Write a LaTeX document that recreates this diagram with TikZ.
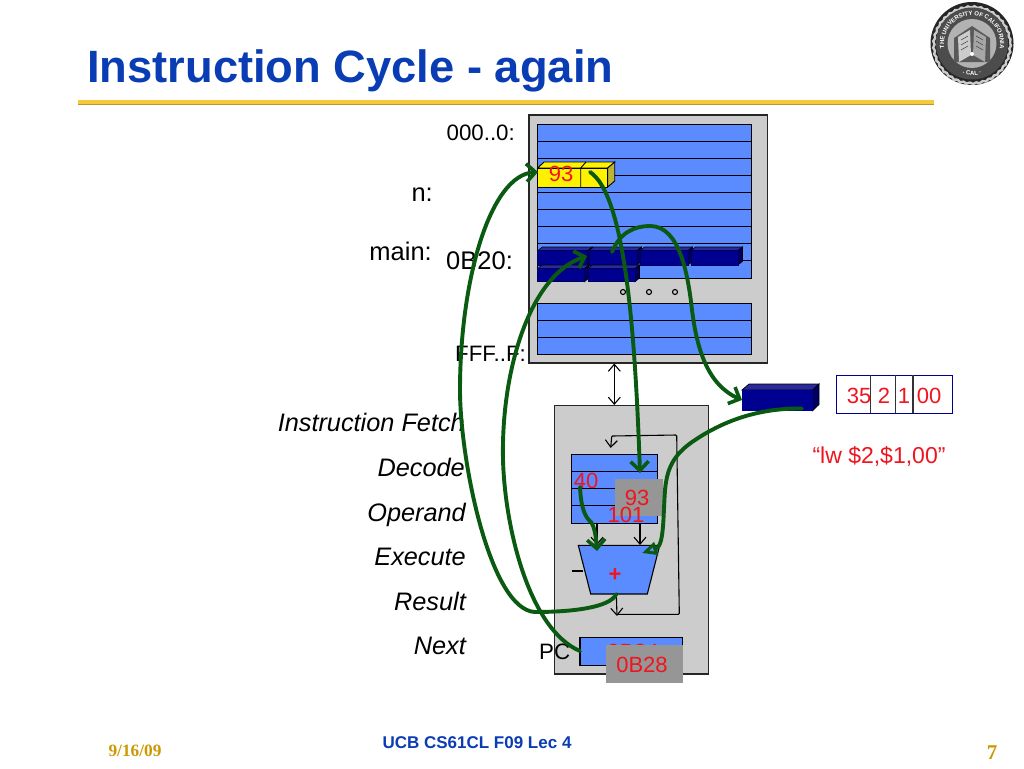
\documentclass[tikz,border=0pt]{standalone}
\usepackage{fontspec}
\setmainfont{Liberation Sans}
\newfontfamily\serifbold{Liberation Serif}
\usetikzlibrary{arrows.meta,decorations.text,decorations.pathmorphing}
\definecolor{panel}{HTML}{CCCCCC}
\definecolor{membar}{HTML}{5B8CFF}
\definecolor{navy}{HTML}{000090}
\definecolor{navytop}{HTML}{2A2A9A}
\definecolor{navyside}{HTML}{000060}
\definecolor{wire}{HTML}{0B5A12}
\definecolor{redtxt}{HTML}{F0141E}
\definecolor{titleblue}{HTML}{0A3CB4}
\definecolor{footgold}{HTML}{CC9900}
\definecolor{patch}{HTML}{969696}
\definecolor{ruleyellow}{HTML}{F7C93A}
\tikzset{
  panelbox/.style={draw=black!85,fill=panel,line width=1.2pt},
  barline/.style={draw=black,line width=0.9pt},
  lab/.style={font=\fontsize{22.3}{24}\selectfont,inner sep=0pt,text=black},
  labbig/.style={font=\fontsize{25.5}{27}\selectfont,inner sep=0pt,text=black},
  cyc/.style={font=\fontsize{25.3}{27}\selectfont\itshape,inner sep=0pt,anchor=base east},
  redlab/.style={font=\fontsize{22}{24}\selectfont,inner sep=0pt,text=redtxt},
  thin arrow/.style={draw=black,line width=1.1pt,-{Straight Barb[length=7pt,width=12pt,line width=1.1pt]}},
  greenwire/.style={draw=wire,line width=3.9pt,line cap=round,
     -{Straight Barb[length=9pt,width=18pt,line width=3.6pt]}},
}
\begin{document}
\begin{tikzpicture}[x=1pt,y=-1pt]
\useasboundingbox (0,0) rectangle (1024,768);
\fill[white] (0,0) rectangle (1024,768);
% title and rule
\node[anchor=base west,inner sep=0pt,text=titleblue,font=\fontsize{45.3}{48}\selectfont\bfseries] (title) at (87,82.5) {Instruction Cycle - again};
\fill[ruleyellow] (78,100) rectangle (934,104);
\fill[black!25!ruleyellow] (78,104) rectangle (934,105);
% seal
\fill[black!85] (972,43.5) circle (41.5);
\draw[draw=black!20,line width=2.4pt,decorate,decoration={snake,segment length=6.5pt,amplitude=0.7pt}] (972,43.5) circle (38.2);
\fill[black!70] (972,43.5) circle (36);
\path[postaction={decorate,decoration={text along path,text align=center,
   text={|\fontsize{6}{7}\selectfont\bfseries\color{white}|THE UNIVERSITY OF CALIFORNIA}}}]
   (945.9,53.5) arc[start angle=159,end angle=381,radius=28];
\path[postaction={decorate,decoration={text along path,text align=center,
   text={|\fontsize{6}{7}\selectfont\bfseries\color{white}|· CAL ·}}}]
   (957,71.75) arc[start angle=118,end angle=62,radius=32];
\fill[black!30] (972,43.5) circle (24.5);
\fill[black!65] (954,38) -- (972,26) -- (990,38) -- (990,62) -- (954,62) -- cycle;
\fill[black!20] (958,37) -- (970,30) -- (971,55) -- (959,62) -- cycle;
\fill[black!35] (974,30) -- (986,37) -- (985,62) -- (973,55) -- cycle;
\draw[black!70,line width=0.6pt] (961,40) -- (968,36) (961,45) -- (968,41) (961,50) -- (968,46) (976,36) -- (983,40) (976,41) -- (983,45) (976,46) -- (983,50);
\fill[white] (972,54) circle (2);
% memory
\draw[panelbox,line width=1.4pt] (529,115) rectangle (767.5,363);
\fill[membar] (537.5,124) rectangle (751,278);
\draw[barline] (537.5,124) rectangle (751,278);
\foreach \yy in {141,158,175,192,209,226,243,260} \draw[barline] (537.5,\yy) -- (751,\yy);
\fill[membar] (537.5,303) rectangle (751,354);
\draw[barline] (537.5,303) rectangle (751,354);
\foreach \yy in {320,337} \draw[barline] (537.5,\yy) -- (751,\yy);
% yellow word
\fill[yellow,draw=black,line width=0.9pt] (537.7,168) -- (544,162) -- (614.7,162) -- (607.7,168) -- cycle;
\fill[yellow!70!black,draw=black,line width=0.9pt] (607.7,168) -- (614.7,162) -- (614.7,181) -- (607.7,187) -- cycle;
\fill[yellow,draw=black,line width=0.9pt] (537.7,168) rectangle (607.7,187);
\draw[black,line width=0.9pt] (580.7,168) -- (580.7,187) (580.7,168) -- (586,162);
% program words
\foreach \xa/\xb in {537.7/587.7,589/637,640/688,691/738}{
  \fill[navytop,draw=black,line width=0.6pt] (\xa,250.7) -- (\xa+4.5,247) -- (\xb+4.5,247) -- (\xb,250.7) -- cycle;
  \fill[navyside,draw=black,line width=0.6pt] (\xb,250.7) -- (\xb+4.5,247) -- (\xb+4.5,261.3) -- (\xb,265) -- cycle;
  \fill[navy,draw=navy!60!black,line width=0.5pt] (\xa,250.7) rectangle (\xb,265);
}
\foreach \xa/\xb in {537.7/584.5,588/635}{
  \fill[navytop,draw=black,line width=0.6pt] (\xa,268.5) -- (\xa+4.5,265) -- (\xb+4.5,265) -- (\xb,268.5) -- cycle;
  \fill[navyside,draw=black,line width=0.6pt] (\xb,268.5) -- (\xb+4.5,265) -- (\xb+4.5,278) -- (\xb,281.7) -- cycle;
  \fill[navy,draw=navy!60!black,line width=0.5pt] (\xa,268.5) rectangle (\xb,281.7);
}
\foreach \xx in {623,649,675} \draw[black,line width=1.1pt] (\xx,292) circle (2.5);
% memory labels
\node[lab,anchor=base east] (addr0) at (515,140) {000..0:};
\node[labbig,anchor=base east] (labn) at (433,201) {n:};
\node[labbig,anchor=base east] (labmain) at (432,260) {main:};
\node[labbig,anchor=base west] (addrb) at (446,269) {0B20:};
\node[lab,anchor=base west] (addrf) at (455,361) {FFF..F:};
\node[redlab,anchor=base] (val93) at (561,181) {93};
% cycle labels
\node[cyc] (c1) at (465,431) {Instruction Fetch};
\node[cyc] (c2) at (465,476) {Decode};
\node[cyc] (c3) at (466,521) {Operand};
\node[cyc] (c4) at (466,565) {Execute};
\node[cyc] (c5) at (466,610) {Result};
\node[cyc] (c6) at (466,654) {Next};
% cpu
\draw[panelbox] (554.3,405.7) rectangle (708.3,674);
\draw[draw=black,line width=1.1pt,{Straight Barb[length=7pt,width=12pt,line width=1.1pt]}-{Straight Barb[length=7pt,width=12pt,line width=1.1pt]}] (614.3,363.5) -- (614.3,405);
% registers
\fill[membar] (571.7,454.3) rectangle (657,523);
\draw[barline] (571.7,454.3) rectangle (657,523);
\foreach \yy in {471,488,505.7} \draw[barline] (571.7,\yy) -- (657,\yy);
\node[redlab,anchor=base] (r40) at (586,488) {40};
% alu
\draw[fill=membar,draw=black,line width=1.1pt] (578.3,545.3) -- (659.7,545.3) -- (647.3,594) -- (590.7,594) -- cycle;
\node[inner sep=0pt,text=redtxt,font=\fontsize{22}{24}\selectfont\bfseries] (plus) at (615,575) {+};
\coordinate (aluout) at (616.3,594);
\coordinate (loopa) at (617.3,614.3);
\draw[thin arrow] (aluout) -- (617,616);
\coordinate (loopb) at (679.3,614.3);
\coordinate (loopc) at (676.7,435);
\coordinate (loopd) at (611.7,436);
\coordinate (loope) at (610.7,448);
\draw[thin arrow,rounded corners=1pt] (loopa) -- (loopb) -- (loopc) -- (loopd) -- (loope);
\draw[thin arrow] (597,523) -- (597,545);
\draw[thin arrow] (640,523) -- (640,545);
\draw[black,line width=1.1pt] (571.7,571) -- (583,571);
% patches
\node[fill=patch,inner sep=0pt,minimum width=48pt,minimum height=37pt,anchor=north west] (p93) at (615,478.3) {};
\node[redlab,anchor=base] (t93) at (637,505) {93};
\node[redlab,anchor=base] (r101) at (626,522) {101};
% pc
\draw[fill=membar,draw=black,line width=1.1pt] (580,637.3) rectangle (682.7,665.3);
\node[redlab,anchor=base] (pcold) at (633,659) {0B24};
\node[fill=patch,inner sep=0pt,minimum width=76.7pt,minimum height=37.3pt,anchor=north west] (p0b28) at (606,645) {};
\node[redlab,anchor=base] (pcnew) at (642,672) {0B28};
\node[lab,anchor=base west] (pclab) at (539,659) {PC};
% instruction register side
\fill[navytop,draw=black,line width=0.7pt] (742,390) -- (749,384) -- (819,384) -- (812.7,390) -- cycle;
\fill[navyside,draw=black,line width=0.7pt] (812.7,390) -- (819,384) -- (819,404.5) -- (812.7,410.7) -- cycle;
\fill[navy] (742,390) rectangle (812.7,410.7);
\draw[draw=navy,line width=1.1pt,fill=white] (836.3,375.3) rectangle (952.3,413.3);
\draw[black!80,line width=1.2pt] (870.3,375.3) -- (870.3,413.3) (895.7,375.3) -- (895.7,413.3) (913,375.3) -- (913,413.3);
\node[redlab,anchor=base] (f35) at (859,403) {35};
\node[redlab,anchor=base] (f2) at (884,403) {2};
\node[redlab,anchor=base] (f1) at (904,403) {1};
\node[redlab,anchor=base] (f00) at (929,403) {00};
\node[redlab,anchor=base,font=\fontsize{23}{25}\selectfont] (asm) at (879,463) {“lw \$2,\$1,00”};
% footer
\node[anchor=base,inner sep=0pt,text=titleblue,font=\fontsize{17}{19}\selectfont\bfseries] (foot) at (477,748) {UCB CS61CL F09 Lec 4};
\node[anchor=base,inner sep=0pt,text=footgold,font=\fontsize{17.3}{19}\selectfont\serifbold\bfseries] (date) at (135,756) {9/16/09};
\node[anchor=base,inner sep=0pt,text=footgold,font=\fontsize{21}{23}\selectfont\serifbold\bfseries] (pageno) at (992,759) {7};
% green connectors
\coordinate (src93) at (590,172);
\coordinate (dst93) at (640,473);
\coordinate (srcw) at (612,252);
\coordinate (dstir) at (742,400);
\coordinate (srcir) at (802,408.5);
\coordinate (dstalu) at (642,553);
\coordinate (src40) at (580,487);
\coordinate (dstalua) at (597,551);
\coordinate (srcpc) at (580,651);
\coordinate (dstpc) at (587,256);
\coordinate (dstn) at (538,172);
\draw[greenwire] (src93) .. controls (625,195) and (635,330) .. (dst93);
\draw[greenwire] (srcw) .. controls (620,232) and (635,226) .. (650,226)
   .. controls (680,226) and (688,275) .. (692,310)
   .. controls (697,350) and (708,385) .. (dstir);
\draw[draw=wire,line width=3.9pt,line cap=round,-{Triangle[open,fill=membar,length=15pt,width=13pt,line width=3pt]}] (srcir) .. controls (760,408) and (725,420) .. (695,440)
   .. controls (672,455) and (667,470) .. (665,490)
   .. controls (663,520) and (664,546) .. (dstalu);
\draw[greenwire] (src40) .. controls (581,510) and (586,518) .. (591,522)
   .. controls (595,528) and (596,538) .. (dstalua);
\draw[greenwire] (srcpc) .. controls (530,630) and (505,530) .. (503,460)
   .. controls (501,370) and (530,275) .. (dstpc);
\draw[greenwire] (aluout) .. controls (610,608) and (570,612) .. (535,612)
   .. controls (490,610) and (460,460) .. (460,390)
   .. controls (460,280) and (490,175) .. (dstn);
\end{tikzpicture}
\end{document}
